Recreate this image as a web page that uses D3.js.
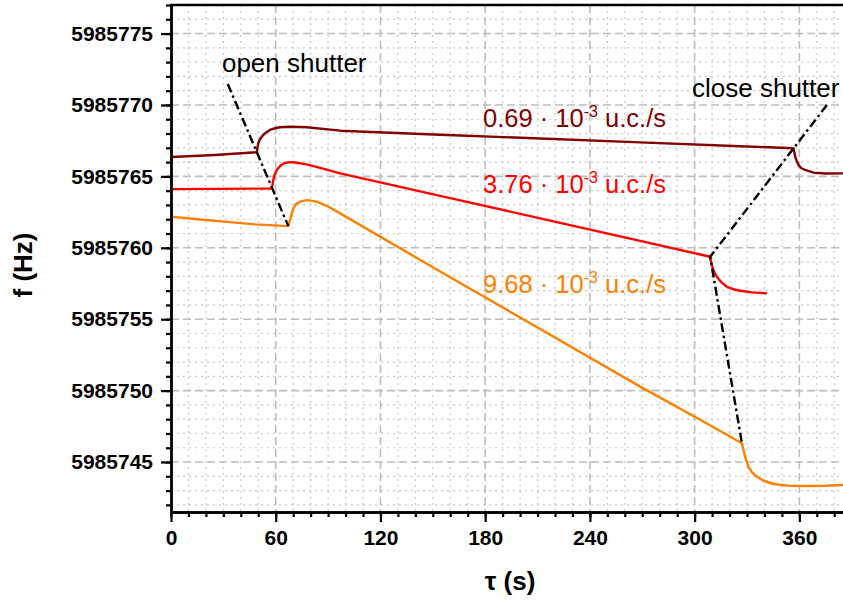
<!DOCTYPE html>
<html>
<head>
<meta charset="utf-8">
<script src="https://cdn.jsdelivr.net/npm/d3@7"></script>
<style>
  html, body { margin: 0; padding: 0; background: #fff; }
  svg { display: block; font-family: "Liberation Sans", Arial, sans-serif; }
</style>
</head>
<body>
<svg id="chart" width="843" height="601"></svg>
<script>
// Frequency drift of the resonator, three illumination intensities
const seriesNames = ["0.69", "3.76", "9.68"];
const seriesColors = ["#820000", "#ff0000", "#ff8000"];

// time (s)
const tDark = [0, 25.2, 49.1, 49.5, 50.0, 51.0, 52.9, 54.4, 56.7, 59.6, 62.5, 68.2, 77.8, 96.9, 154.2, 211.5, 268.8, 326.1, 356.6, 357.1, 357.6, 358.5, 359.5, 361.0, 363.3, 368.1, 374.7, 385];
// frequency (Hz)
const fDark = [5985766.36, 5985766.50, 5985766.69, 5985766.99, 5985767.32, 5985767.62, 5985767.90, 5985768.07, 5985768.25, 5985768.37, 5985768.44, 5985768.47, 5985768.44, 5985768.20, 5985767.92, 5985767.65, 5985767.38, 5985767.11, 5985766.97, 5985766.71, 5985766.38, 5985766.08, 5985765.80, 5985765.59, 5985765.45, 5985765.26, 5985765.20, 5985765.21];

const tRed = [0, 57.7, 58.2, 58.6, 59.3, 60.6, 62.5, 64.4, 67.1, 70.1, 77.8, 85.4, 96.9, 154.2, 211.5, 268.8, 308.9, 309.3, 309.9, 310.9, 312.7, 315.2, 318.5, 322.1, 326.1, 333.0, 341.4];
const fRed = [5985764.11, 5985764.15, 5985764.47, 5985764.75, 5985765.10, 5985765.45, 5985765.73, 5985765.91, 5985765.98, 5985765.99, 5985765.84, 5985765.59, 5985765.21, 5985763.64, 5985762.06, 5985760.48, 5985759.37, 5985759.07, 5985758.79, 5985758.37, 5985757.97, 5985757.60, 5985757.27, 5985757.10, 5985756.99, 5985756.88, 5985756.81];

const tOrange = [0, 16.6, 33.8, 48.1, 67.2, 67.6, 68.2, 69.1, 70.1, 71.6, 73.9, 77.8, 83.5, 90.0, 96.9, 154.2, 211.5, 268.8, 301.4, 327.1, 328.0, 328.9, 330.8, 333.0, 335.7, 339.8, 345.2, 354.7, 364.3, 374.7, 385];
const fOrange = [5985762.18, 5985761.98, 5985761.80, 5985761.64, 5985761.52, 5985761.73, 5985761.94, 5985762.36, 5985762.76, 5985763.06, 5985763.23, 5985763.34, 5985763.23, 5985762.89, 5985762.41, 5985758.34, 5985754.31, 5985750.28, 5985748.08, 5985746.31, 5985745.84, 5985745.37, 5985744.67, 5985744.26, 5985743.97, 5985743.67, 5985743.46, 5985743.33, 5985743.32, 5985743.34, 5985743.39];

// shutter markers (dash-dot guides)
const openShutterT = [32.5, 67.2];
const openShutterF = [5985771.47, 5985761.52];
const closeShutterT = [375.8, 308.9, 327.1];
const closeShutterF = [5985770.00, 5985759.37, 5985746.31];

// axis ticks
const xMajorTicks = [0, 60, 120, 180, 240, 300, 360];
const yMajorTicks = [5985745, 5985750, 5985755, 5985760, 5985765, 5985770, 5985775];

const svg = d3.select("#chart");
const plotLeft = 171, plotRight = 843, plotTop = 5, plotBottom = 512;

const x = d3.scaleLinear().domain([0, 385]).range([plotLeft, plotRight]);
const y = d3.scaleLinear().domain([5985741.5, 5985777]).range([plotBottom, plotTop]);

const xMinor = d3.range(0, 386, 10);
const yMinor = d3.range(5985742, 5985777.01, 1);

// grid
const grid = svg.append("g");
grid.selectAll("line.xmin").data(xMinor.filter(v => v % 60 !== 0))
  .join("line").attr("x1", d => x(d)).attr("x2", d => x(d)).attr("y1", plotTop).attr("y2", plotBottom)
  .attr("stroke", "#c8c8c8").attr("stroke-width", 1.2).attr("stroke-dasharray", "2,4");
grid.selectAll("line.ymin").data(yMinor.filter(v => (v - 5985745) % 5 !== 0))
  .join("line").attr("x1", plotLeft).attr("x2", plotRight).attr("y1", d => y(d)).attr("y2", d => y(d))
  .attr("stroke", "#c8c8c8").attr("stroke-width", 1.2).attr("stroke-dasharray", "2,4");
grid.selectAll("line.xmaj").data(xMajorTicks.filter(v => v > 0))
  .join("line").attr("x1", d => x(d)).attr("x2", d => x(d)).attr("y1", plotTop).attr("y2", plotBottom)
  .attr("stroke", "#bdbdbd").attr("stroke-width", 1.6).attr("stroke-dasharray", "8,4");
grid.selectAll("line.ymaj").data(yMajorTicks)
  .join("line").attr("x1", plotLeft).attr("x2", plotRight).attr("y1", d => y(d)).attr("y2", d => y(d))
  .attr("stroke", "#bdbdbd").attr("stroke-width", 1.6).attr("stroke-dasharray", "8,4");

// curves
const line = d3.line().x(d => x(d[0])).y(d => y(d[1]));
const series = [
  d3.zip(tDark, fDark),
  d3.zip(tRed, fRed),
  d3.zip(tOrange, fOrange)
];
series.forEach((pts, i) => {
  svg.append("path").datum(pts).attr("d", line)
    .attr("fill", "none").attr("stroke", seriesColors[i]).attr("stroke-width", 2.4)
    .attr("stroke-linejoin", "round");
});

// shutter guides
[[openShutterT, openShutterF], [closeShutterT, closeShutterF]].forEach(([ts, fs]) => {
  svg.append("path").datum(d3.zip(ts, fs)).attr("d", line)
    .attr("fill", "none").attr("stroke", "#000").attr("stroke-width", 2.4)
    .attr("stroke-dasharray", "9,3.5,2.5,3.5");
});

// axes
function styleAxis(g) {
  g.selectAll("path.domain").attr("stroke", "#000").attr("stroke-width", 2.4);
  g.selectAll(".tick line").attr("stroke", "#000").attr("stroke-width", 2.2);
  g.selectAll(".tick text").attr("fill", "#000").attr("font-size", 21)
    .attr("font-weight", "bold").attr("font-family", "'Liberation Sans', Arial, sans-serif");
}
svg.append("g").attr("transform", `translate(0,${plotBottom})`)
  .call(d3.axisBottom(x).tickValues(xMinor).tickSize(5).tickSizeOuter(0).tickFormat(""))
  .call(styleAxis);
svg.append("g").attr("transform", `translate(${plotLeft},0)`)
  .call(d3.axisLeft(y).tickValues(yMinor).tickSize(5).tickSizeOuter(0).tickFormat(""))
  .call(styleAxis);
svg.append("g").attr("transform", `translate(0,${plotBottom})`)
  .call(d3.axisBottom(x).tickValues(xMajorTicks).tickSize(10).tickSizeOuter(0).tickPadding(8).tickFormat(d3.format("d")))
  .call(styleAxis);
svg.append("g").attr("transform", `translate(${plotLeft},0)`)
  .call(d3.axisLeft(y).tickValues(yMajorTicks).tickSize(10).tickSizeOuter(0).tickPadding(8).tickFormat(d3.format("d")))
  .call(styleAxis);

// top frame
svg.append("line").attr("x1", plotLeft - 1).attr("x2", plotRight).attr("y1", plotTop).attr("y2", plotTop)
  .attr("stroke", "#000").attr("stroke-width", 2.4);

// axis titles
svg.append("text").attr("x", 510).attr("y", 590).attr("text-anchor", "middle")
  .attr("font-size", 26).attr("font-weight", "bold").text("τ (s)");
svg.append("text").attr("transform", "translate(32,265) rotate(-90)").attr("text-anchor", "middle")
  .attr("font-size", 26).attr("font-weight", "bold").text("f (Hz)");

// annotations
svg.append("text").attr("x", x(29.2)).attr("y", y(5985772.33))
  .attr("font-size", 26).attr("fill", "#000").text("open shutter");
svg.append("text").attr("x", x(298.5)).attr("y", y(5985770.58))
  .attr("font-size", 26).attr("fill", "#000").text("close shutter");

const rateLabelT = 178.8;
const rateLabelF = [5985768.48, 5985763.81, 5985756.81];
seriesNames.forEach((name, i) => {
  const t = svg.append("text").attr("x", x(rateLabelT)).attr("y", y(rateLabelF[i]))
    .attr("font-size", 25.5).attr("fill", seriesColors[i]);
  t.append("tspan").text(name + " \u00b7 10");
  t.append("tspan").attr("font-size", 16).attr("dy", -10).text("-3");
  t.append("tspan").attr("dy", 10).text(" u.c./s");
});
</script>
</body>
</html>
